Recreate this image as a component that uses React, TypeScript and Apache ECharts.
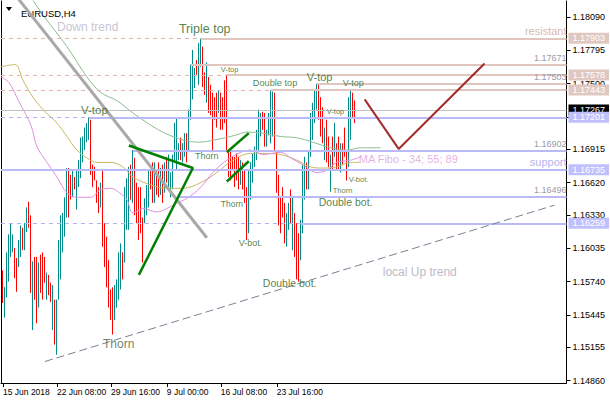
import React, { useEffect, useRef } from "react";
import * as echarts from "echarts";

// ---------- axes ----------
const SLOTS = 284; // 2px per slot, chart shift on the right
const FIRST_SLOT = 1;
const timeLabels = ["15 Jun 2018", "22 Jun 08:00", "29 Jun 16:00", "9 Jul 00:00", "16 Jul 08:00", "23 Jul 16:00"];
const timeLabelSlots = [1, 28, 55, 83, 110, 138];
const priceTicks = [1.1809, 1.17795, 1.175, 1.17205, 1.16915, 1.1662, 1.1633, 1.16035, 1.1574, 1.15445, 1.15155, 1.1486];
const hiddenPriceLabels = [1.17205];
const Y_MIN = 1.14839;
const Y_MAX = 1.18235;

// ---------- EURUSD H4 bars (high / low / direction) ----------
const highs = [
  1.1584, 1.1569, 1.16, 1.1616, 1.1626, 1.1616, 1.1604, 1.1595, 1.1611, 1.1624,
  1.1622, 1.1626, 1.164, 1.1645, 1.1633, 1.1592, 1.1596, 1.1596, 1.1591, 1.1598,
  1.16, 1.1596, 1.1582, 1.158, 1.1573, 1.1571, 1.1558, 1.1558, 1.1611, 1.1633,
  1.1635, 1.1649, 1.1675, 1.1675, 1.1669, 1.1673, 1.1667, 1.1673, 1.1682, 1.1702,
  1.1703, 1.1711, 1.1715, 1.172, 1.1718, 1.1678, 1.1676, 1.1664, 1.1658, 1.1662,
  1.1673, 1.1626, 1.1614, 1.1593, 1.1567, 1.1569, 1.1571, 1.1576, 1.16, 1.1608,
  1.16, 1.1658, 1.1666, 1.1676, 1.1678, 1.1691, 1.1684, 1.1662, 1.1658, 1.1658,
  1.1631, 1.1648, 1.166, 1.1673, 1.1673, 1.168, 1.168, 1.1673, 1.168, 1.1675,
  1.1678, 1.168, 1.1685, 1.1687, 1.1671, 1.1687, 1.1715, 1.172, 1.1697, 1.1702,
  1.1697, 1.1706, 1.1706, 1.1727, 1.1767, 1.178, 1.1764, 1.1771, 1.1786, 1.179,
  1.1783, 1.176, 1.1769, 1.1756, 1.1749, 1.1742, 1.1738, 1.1742, 1.1744, 1.1742,
  1.1738, 1.1753, 1.1758, 1.1691, 1.1691, 1.1685, 1.1685, 1.1688, 1.1685, 1.1682,
  1.168, 1.1673, 1.1658, 1.1673, 1.168, 1.1688, 1.1694, 1.1709, 1.1727, 1.1724,
  1.1725, 1.1724, 1.1709, 1.1724, 1.1744, 1.1743, 1.1742, 1.1691, 1.1669, 1.1649,
  1.1658, 1.1644, 1.1635, 1.1644, 1.1656, 1.1649, 1.1635, 1.1626, 1.1617, 1.1629,
  1.1678, 1.1685, 1.168, 1.1691, 1.1724, 1.1733, 1.1744, 1.175, 1.1749, 1.1738,
  1.1729, 1.1711, 1.1718, 1.1703, 1.1687, 1.1703, 1.1715, 1.1697, 1.1703, 1.1697,
  1.1697, 1.1711, 1.1691, 1.1738, 1.1744, 1.1742, 1.1735,
];
const lows = [
  1.1555, 1.1542, 1.156, 1.1574, 1.1596, 1.16, 1.1577, 1.1565, 1.1587, 1.1596,
  1.1602, 1.1602, 1.1618, 1.1622, 1.1564, 1.1531, 1.1558, 1.1537, 1.1551, 1.1564,
  1.1558, 1.1573, 1.1558, 1.1562, 1.1556, 1.1531, 1.1518, 1.1509, 1.1558, 1.1576,
  1.16, 1.1614, 1.1631, 1.1631, 1.1647, 1.1649, 1.1656, 1.1638, 1.1658, 1.1666,
  1.168, 1.1691, 1.1698, 1.17, 1.1669, 1.1658, 1.1664, 1.1644, 1.1635, 1.164,
  1.1605, 1.1587, 1.1569, 1.1551, 1.154, 1.1527, 1.154, 1.1551, 1.1558, 1.1567,
  1.1576, 1.1591, 1.162, 1.162, 1.1647, 1.1644, 1.1633, 1.1626, 1.1611, 1.1617,
  1.1591, 1.1626, 1.1633, 1.164, 1.1656, 1.1644, 1.1644, 1.1651, 1.1649, 1.1651,
  1.1644, 1.1653, 1.1662, 1.1658, 1.1649, 1.1656, 1.168, 1.1673, 1.1682, 1.1682,
  1.168, 1.1685, 1.168, 1.1691, 1.1718, 1.1736, 1.1746, 1.1758, 1.1749, 1.1765,
  1.1747, 1.174, 1.1733, 1.1724, 1.1722, 1.1689, 1.1718, 1.1711, 1.1724, 1.1709,
  1.1709, 1.1715, 1.1691, 1.1667, 1.1664, 1.1673, 1.1658, 1.1664, 1.1656, 1.166,
  1.1656, 1.1644, 1.1611, 1.1617, 1.1647, 1.1662, 1.1676, 1.1682, 1.1691, 1.1703,
  1.1709, 1.1694, 1.1694, 1.1704, 1.1697, 1.1703, 1.1691, 1.1653, 1.1624, 1.1617,
  1.1631, 1.1608, 1.1605, 1.162, 1.1626, 1.1602, 1.1596, 1.1576, 1.1574, 1.1593,
  1.1617, 1.1647, 1.1656, 1.1656, 1.1685, 1.17, 1.1715, 1.1727, 1.1718, 1.1703,
  1.1697, 1.1682, 1.168, 1.1676, 1.1654, 1.1673, 1.1685, 1.1673, 1.1673, 1.1671,
  1.1678, 1.1685, 1.1664, 1.1676, 1.17, 1.172, 1.1715,
];
const dirs =
  "duuuuudduu" + "duudduddud" + "ddudduduuu" + "uuudduduuu" + "uuuudddddu" +
  "dddddduuuu" + "duuududddd" + "duuudduddu" + "duduuuuuud" + "uuduuuuduu" +
  "ddudddddud" + "dddddddddu" + "ddduuuuuuu" + "dduuuudddd" + "dduududddu" +
  "uuduuuuudd" + "duddududdu" + "ddduudd";

const bidPrice = 1.17267;

// ---------- moving averages (MA Fibo 34 / 55 / 89), [slot, price] ----------
const ma34 = [
  [0, 1.1756], [4, 1.1751], [9, 1.1734], [15, 1.1713], [18, 1.1694], [23, 1.168], [28, 1.1667],
  [33, 1.1653], [38, 1.1649], [45, 1.1649], [50, 1.1656], [55, 1.1657], [60, 1.1652], [63, 1.1647],
  [66, 1.1635], [71, 1.1639], [78, 1.1636], [83, 1.1639], [88, 1.1644], [93, 1.1648], [100, 1.1658],
  [106, 1.1671], [113, 1.1682], [120, 1.1689], [125, 1.1691], [131, 1.1687], [140, 1.1689],
  [145, 1.1684], [151, 1.1678], [158, 1.1671], [163, 1.1673], [168, 1.168], [175, 1.1682], [180, 1.1685],
];
const ma55 = [
  [0, 1.1765], [7, 1.1767], [11, 1.1753], [16, 1.1738], [21, 1.1727], [28, 1.1715], [33, 1.1703],
  [38, 1.1691], [43, 1.1684], [48, 1.168], [55, 1.168], [61, 1.1676], [66, 1.1667], [75, 1.166],
  [83, 1.1657], [91, 1.1657], [100, 1.1662], [108, 1.1671], [116, 1.1682], [125, 1.1688],
  [131, 1.1688], [140, 1.1687], [148, 1.1682], [155, 1.1676], [161, 1.1675], [168, 1.1676],
  [175, 1.168], [180, 1.168],
];
const ma89 = [
  [1, 1.186], [16, 1.1824], [21, 1.1811], [33, 1.1783], [43, 1.1756], [50, 1.1742], [58, 1.1735],
  [66, 1.1724], [75, 1.1713], [82, 1.1706], [91, 1.17], [99, 1.1698], [107, 1.17], [117, 1.1704],
  [123, 1.1707], [131, 1.1706], [140, 1.1703], [148, 1.1702], [156, 1.1698], [165, 1.1693],
  [173, 1.1691], [180, 1.1693], [190, 1.1693],
];

// ---------- drawn trend lines, [slot, price] ----------
const downTrend = [[8, 1.1827], [103, 1.1613]];
const triangle = [[64, 1.1695], [96, 1.1675], [69, 1.158]];
const flagUpper = [[113, 1.1689], [124, 1.1706]];
const flagLower = [[113, 1.1663], [124, 1.1681]];
const upTrend = [[22, 1.1503], [277, 1.1642]];
const forecast = [[182, 1.1736], [199, 1.1692], [242, 1.1768]];

// ---------- horizontal levels ----------
type Level = { price: number; start: number; dashed: boolean; box: boolean; note: string };
const resistanceLevels: Level[] = [
  { price: 1.17903, start: 100, dashed: true, box: true, note: "resistant" },
  { price: 1.17671, start: 95, dashed: false, box: false, note: "1.17671" },
  { price: 1.17578, start: 113, dashed: true, box: true, note: "" },
  { price: 1.17503, start: 158, dashed: false, box: false, note: "1.17503" },
  { price: 1.17443, start: 135, dashed: true, box: true, note: "" },
];
const supportLevels: Level[] = [
  { price: 1.17201, start: 44, dashed: true, box: true, note: "" },
  { price: 1.16902, start: 66, dashed: false, box: false, note: "1.16902" },
  { price: 1.16735, start: 0, dashed: false, box: true, note: "support" },
  { price: 1.16496, start: 88, dashed: false, box: false, note: "1.16496" },
  { price: 1.16259, start: 150, dashed: true, box: true, note: "" },
];

// ---------- text annotations, [slot, price] ----------
const PATTERN = "#2a6218";
const annotations = [
  { text: "Down trend", at: [28, 1.18], size: 12, color: "#b6b6c6" },
  { text: "Triple top", at: [89, 1.1799], size: 12.5, color: PATTERN },
  { text: "V-top", at: [40, 1.1727], size: 11.5, color: PATTERN },
  { text: "V-top", at: [110, 1.1763], size: 7.5, color: PATTERN },
  { text: "Double top", at: [126, 1.1751], size: 9.2, color: PATTERN },
  { text: "V-top", at: [153, 1.1756], size: 11, color: PATTERN },
  { text: "V-top", at: [171, 1.1751], size: 9, color: PATTERN },
  { text: "V-top", at: [163, 1.1725], size: 7.5, color: PATTERN },
  { text: "Thorn", at: [97, 1.1686], size: 9, color: PATTERN },
  { text: "Thorn", at: [110, 1.1643], size: 8.5, color: PATTERN },
  { text: "V-bot.", at: [119, 1.1608], size: 9, color: PATTERN },
  { text: "Thorn", at: [166, 1.1655], size: 7.5, color: PATTERN },
  { text: "V-bot.", at: [174, 1.1665], size: 7.5, color: PATTERN },
  { text: "Double bot.", at: [159, 1.1645], size: 10.5, color: PATTERN },
  { text: "Double bot.", at: [131, 1.1573], size: 10.5, color: PATTERN },
  { text: "Thorn", at: [51, 1.1519], size: 12, color: "#4f5f47" },
  { text: "local Up trend", at: [191, 1.1583], size: 12, color: "#a8a8b8" },
  { text: "MA Fibo - 34; 55; 89", at: [179, 1.1683], size: 11, color: "#dda0dd" },
];

const FONT = "'Liberation Sans', Arial, sans-serif";
const TEAL = "#008b8b";
const RED = "#ff0000";

function buildOption() {
  const categories = Array.from({ length: SLOTS }, (_, k) => {
    const j = timeLabelSlots.indexOf(k);
    return j >= 0 ? timeLabels[j] : "s" + k;
  });
  const labelSet = new Set(timeLabelSlots);
  const candles = Array.from({ length: SLOTS }, (_, k) => {
    const i = k - FIRST_SLOT;
    if (i < 0 || i >= highs.length) return ["-", "-", "-", "-"];
    return dirs[i] === "u"
      ? [lows[i], highs[i], lows[i], highs[i]]
      : [highs[i], lows[i], lows[i], highs[i]];
  });

  const last = SLOTS - 1;
  const box = (bg: string) => ({
    show: true,
    position: "end",
    distance: 2,
    backgroundColor: bg,
    color: "#fff",
    fontSize: 9,
    fontFamily: FONT,
    padding: [1, 4, 0, 4],
    lineHeight: 10,
  });
  const ml: any[] = [];
  ml.push([
    {
      coord: [0, bidPrice],
      lineStyle: { color: "#c0c0c0", width: 1, type: "solid" },
      label: { ...box("#000000"), formatter: bidPrice.toFixed(5) },
    },
    { coord: [last, bidPrice] },
  ]);
  const addLevels = (levels: Level[], c: { line: string; dash: string; box: string; text: string }) => {
    for (const lv of levels) {
      const p = lv.price;
      if (lv.dashed) {
        ml.push([
          { coord: [0, p], lineStyle: { color: c.dash, width: 1, type: [4, 4] }, label: { show: false } },
          { coord: [lv.start, p] },
        ]);
      }
      const isNumber = /^\d/.test(lv.note);
      ml.push([
        {
          coord: [lv.start, p],
          lineStyle: { color: c.line, width: 2, type: "solid" },
          label: lv.note
            ? {
                show: true,
                position: "insideEndTop",
                distance: [0, 2],
                formatter: lv.note,
                color: isNumber ? "#9a9aaa" : c.text,
                fontSize: isNumber ? 9 : 11,
                fontFamily: FONT,
              }
            : { show: false },
        },
        { coord: [last, p] },
      ]);
      if (lv.box) {
        ml.push([
          {
            coord: [lv.start, p],
            lineStyle: { color: "rgba(0,0,0,0)", width: 1 },
            label: { ...box(c.box), formatter: p.toFixed(5) },
          },
          { coord: [last, p] },
        ]);
      }
    }
  };
  addLevels(resistanceLevels, { line: "#e0c6be", dash: "#e3b3ab", box: "#e0c8c0", text: "#d8bab2" });
  addLevels(supportLevels, { line: "#babaf6", dash: "#b4b4f0", box: "#c0c0ff", text: "#b6b6ee" });

  const trend = (data: number[][], color: string, width: number, type: any = "solid", z = 6) => ({
    type: "line",
    data,
    symbol: "none",
    silent: true,
    z,
    lineStyle: { color, width, type },
  });
  const ma = (data: number[][], color: string) => ({
    type: "line",
    data,
    symbol: "none",
    smooth: 0.35,
    silent: true,
    z: 4,
    lineStyle: { color, width: 1 },
  });

  return {
    animation: false,
    backgroundColor: "#ffffff",
    textStyle: { fontFamily: FONT },
    title: {
      text: "EURUSD,H4",
      left: 16,
      top: 3,
      textStyle: { fontSize: 9.5, fontWeight: "normal", color: "#000", fontFamily: FONT },
    },
    graphic: [
      { type: "polygon", shape: { points: [[6, 7], [12, 7], [9, 11]] }, style: { fill: "#000" } },
    ],
    grid: { left: 0.5, right: 43.5, top: 1, bottom: 17 },
    xAxis: {
      type: "category",
      data: categories,
      boundaryGap: false,
      axisLine: { show: true, lineStyle: { color: "#000", width: 1 } },
      axisTick: {
        show: true,
        length: 4,
        interval: (idx: number) => labelSet.has(idx),
        lineStyle: { color: "#000" },
      },
      axisLabel: {
        interval: (idx: number) => labelSet.has(idx),
        align: "left",
        margin: 4,
        fontSize: 8.5,
        color: "#000",
        fontFamily: FONT,
      },
      splitLine: { show: false },
    },
    yAxis: [
      {
        type: "value",
        position: "right",
        min: Y_MIN,
        max: Y_MAX,
        axisLine: { show: true, lineStyle: { color: "#000", width: 1 } },
        axisTick: { show: true, length: 4, customValues: priceTicks, lineStyle: { color: "#000" } },
        axisLabel: {
          customValues: priceTicks.filter((v) => !hiddenPriceLabels.includes(v)),
          formatter: (v: number) => v.toFixed(5),
          fontSize: 9,
          margin: 6,
          color: "#000",
          fontFamily: FONT,
        },
        splitLine: { show: false },
      },
      {
        type: "value",
        position: "left",
        min: Y_MIN,
        max: Y_MAX,
        axisLine: { show: true, lineStyle: { color: "#000", width: 1 } },
        axisTick: { show: false },
        axisLabel: { show: false },
        splitLine: { show: false },
      },
    ],
    series: [
      {
        type: "line",
        data: [[0, bidPrice]],
        symbol: "none",
        showSymbol: false,
        silent: true,
        z: 5,
        lineStyle: { width: 0 },
        markLine: {
          silent: true,
          z: 5,
          symbol: ["none", "none"],
          animation: false,
          label: { show: false },
          data: ml,
        },
      },
      ma(ma89, "#8fbc8f"),
      ma(ma55, "#c8b860"),
      ma(ma34, "#e08ee0"),
      {
        type: "candlestick",
        data: candles,
        barWidth: 1,
        silent: true,
        z: 3,
        itemStyle: { color: TEAL, color0: RED, borderColor: TEAL, borderColor0: RED, borderWidth: 1 },
      },
      trend(downTrend, "#a9a9a9", 3),
      trend(triangle, "#008000", 2.5),
      trend(flagUpper, "#008000", 2.5),
      trend(flagLower, "#008000", 2.5),
      trend(upTrend, "#7a8090", 1, [8, 4]),
      trend(forecast, "#a52a2a", 2),
      {
        type: "scatter",
        z: 8,
        silent: true,
        symbolSize: 0.1,
        itemStyle: { color: "transparent" },
        data: annotations.map((a) => ({
          value: a.at,
          label: {
            show: true,
            position: "right",
            distance: 0,
            formatter: a.text,
            fontSize: a.size,
            color: a.color,
            fontFamily: FONT,
          },
        })),
      },
    ],
  };
}

export default function App() {
  const ref = useRef<HTMLDivElement>(null);
  useEffect(() => {
    if (!ref.current) return;
    const chart = echarts.init(ref.current, null, { renderer: "svg" });
    chart.setOption(buildOption() as any);
    return () => chart.dispose();
  }, []);
  return (
    <div
      ref={ref}
      style={{ position: "absolute", left: 0, top: 0, width: 610, height: 400, background: "#fff" }}
    />
  );
}
